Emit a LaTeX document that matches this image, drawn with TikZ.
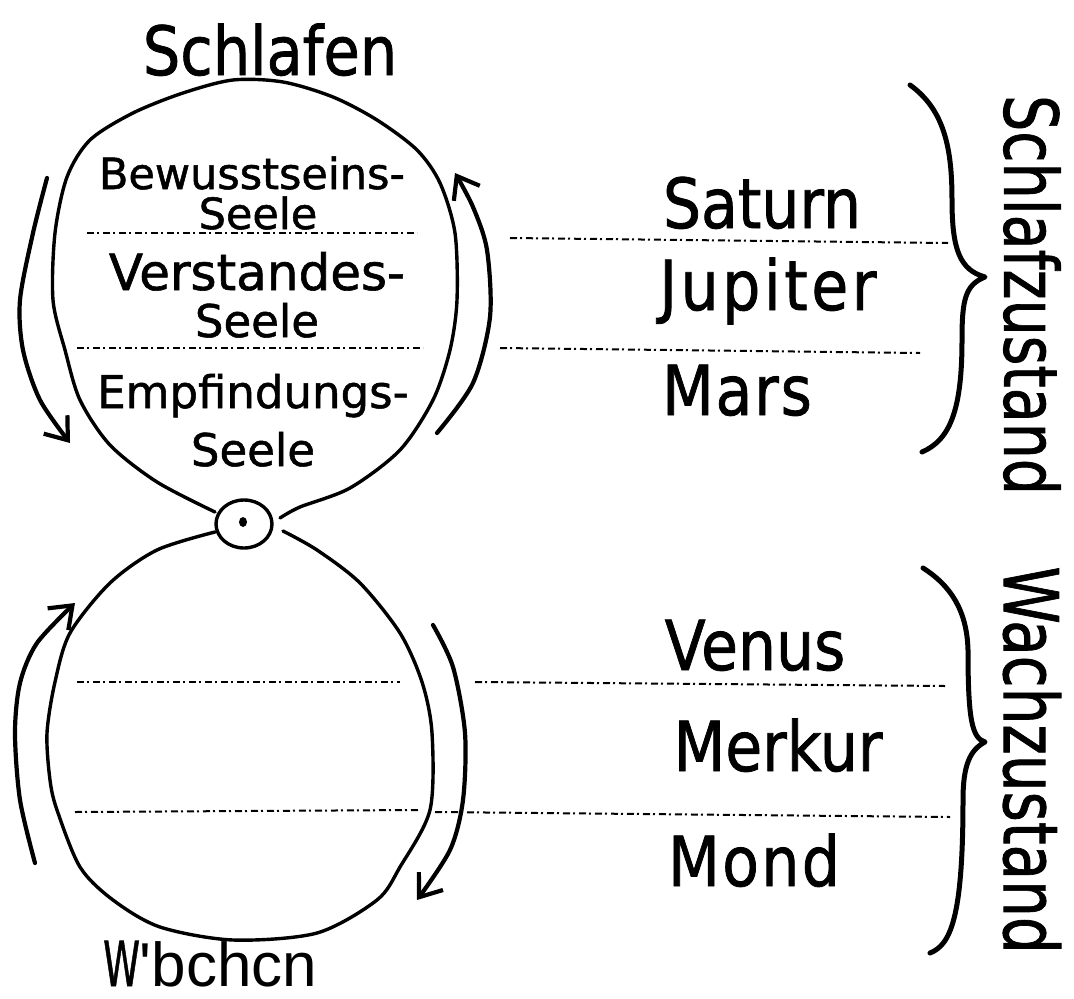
\documentclass[tikz,border=0pt]{standalone}
\usepackage{fontspec}
\newfontfamily\hand[FakeBold=1.2]{DejaVu Sans}
\newfontfamily\prt{Liberation Sans}
\usetikzlibrary{arrows.meta}
\begin{document}
\begin{tikzpicture}[x=1pt,y=-1pt,
  outline/.style={line width=3.4pt, line join=round, line cap=round},
  arr/.style={line width=4.2pt, line cap=round, line join=round, -{Straight Barb[length=20pt,width=30pt]}},
  sep/.style={line width=2pt, dash pattern=on 7pt off 3pt on 2pt off 4pt},
  brace/.style={line width=5pt, line cap=round, line join=round},
  hfont/.style={font=\hand\fontsize{#1}{#1}\selectfont, inner sep=0pt},
  hw/.style={hfont=#1, anchor=base, yscale=1.15},
  hwi/.style={hfont=#1, anchor=base},
  hwr/.style={hfont=#1, anchor=center, rotate=-90, yscale=1.3},
]
\useasboundingbox (0,0) rectangle (1074,999);

% top and bottom loops
\draw[outline] plot[smooth] coordinates {(215,512) (157,482) (110,445) (80,400) (65,350) (53,300) (55,233) (67,177) (90,140) (133,113) (183,93) (233,80) (283,82) (333,97) (377,120) (417,150) (440,183) (455,233) (457,300) (450,350) (433,400) (400,450) (350,488) (300,507) (280,518)};
\draw[outline] plot[smooth] coordinates {(215,532) (157,550) (110,583) (70,633) (55,682) (47,733) (50,780) (57,810) (80,867) (113,900) (160,927) (233,940) (317,933) (377,900) (400,867) (430,810) (432,733) (422,682) (400,633) (360,583) (317,550) (283,531)};

% small circle
\draw[outline] (244,524) ellipse [x radius=28, y radius=24];
\fill (243,522) ellipse [x radius=4, y radius=5];

% separators
\draw[sep] (87,233) -- (417,233);
\draw[sep] (77,348) -- (423,348);
\draw[sep] (510,238) -- (948,243);
\draw[sep] (500,348) -- (920,353);
\draw[sep] (77,682) -- (400,682);
\draw[sep] (75,812) -- (420,810);
\draw[sep] (475,682) -- (945,686);
\draw[sep] (435,812) -- (950,817);

% arrows
\draw[arr] plot[smooth] coordinates {(47,178) (33,233) (20,300) (23,350) (40,400) (70,443)};
\draw[arr] plot[smooth] coordinates {(437,433) (473,383) (490,317) (487,250) (473,207) (455,173)};
\draw[arr] plot[smooth] coordinates {(35,863) (20,800) (15,733) (20,683) (37,643) (75,603)};
\draw[arr] plot[smooth] coordinates {(433,625) (453,667) (465,733) (463,800) (450,850) (417,900)};

% braces
\draw[brace] (910,85) .. controls (945,110) and (952,150) .. (952,200) .. controls (952,250) and (960,270) .. (985,277) .. controls (965,285) and (962,300) .. (962,340) .. controls (962,410) and (950,440) .. (922,452);
\draw[brace] (923,568) .. controls (950,585) and (967,610) .. (968,650) .. controls (968,720) and (972,738) .. (985,742) .. controls (970,750) and (963,765) .. (963,800) .. controls (963,920) and (950,945) .. (930,953);

% texts
\node[hw=59] (schlafen) at (270,75) {Schlafen};
\node[hwi=43] (bew) at (252,189) {Bewusstseins-};
\node[hwi=43] (seele1) at (258,229) {Seele};
\node[hwi=50] (verst) at (257,290) {Verstandes-};
\node[hwi=45] (seele2) at (257,337) {Seele};
\node[hwi=45] (empf) at (253,408) {Empfindungs-};
\node[hwi=45] (seele3) at (253,466) {Seele};

\node[hw=60] (saturn) at (762,228) {Saturn};
\node[hw=60] (jupiter) at (768,310) {\addfontfeature{LetterSpace=6}Jupiter};
\node[hw=60] (mars) at (737,415) {\addfontfeature{LetterSpace=3}Mars};
\node[hw=60] (venus) at (755,670) {Venus};
\node[hw=60] (merkur) at (778,771) {Merkur};
\node[hw=60] (mond) at (754,886) {\addfontfeature{LetterSpace=4}Mond};

\node[hwr=57] (schlafz) at (1032,295) {Schlafzustand};
\node[hwr=58] (wachz) at (1032,760) {Wachzustand};

\node[anchor=base west, inner sep=0pt] (wachen) at (103,986) {\hand\fontsize{62}{62}\selectfont\scalebox{0.6}[1]{W}\prt 'bchcn};
\end{tikzpicture}
\end{document}
